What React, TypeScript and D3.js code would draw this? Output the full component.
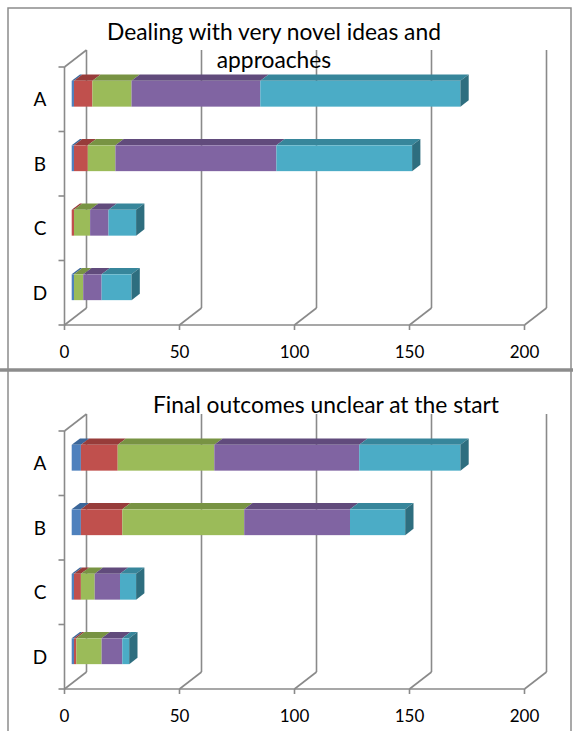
import React from "react";
import * as d3 from "d3";

// Categories and tick values
const categories = ["A", "B", "C", "D"];
const tickValues = [0, 50, 100, 150, 200];

// "Dealing with very novel ideas and approaches" — stacked series values
const novelBlue = [1, 1, 0, 1];
const novelRed = [8, 6, 1, 0];
const novelGreen = [17, 12, 7, 4];
const novelPurple = [56, 70, 8, 8];
const novelCyan = [87, 59, 12, 13];

// "Final outcomes unclear at the start" — stacked series values
const unclearBlue = [4, 4, 1, 1];
const unclearRed = [16, 18, 3, 1];
const unclearGreen = [42, 53, 6, 11];
const unclearPurple = [63, 46, 11, 9];
const unclearCyan = [44, 24, 7, 3];

// Face colours per series: front, top, side
const palette = [
  { front: "#4F81BD", top: "#3B6699", side: "#2E5078" },
  { front: "#C0504D", top: "#973C3A", side: "#7A2F2D" },
  { front: "#9BBB59", top: "#789343", side: "#5E7434" },
  { front: "#8064A2", top: "#614B7C", side: "#4C3A61" },
  { front: "#4BACC6", top: "#37869B", side: "#2E6E7F" },
];

const W = 573;
const H = 731;
const FONT = "Lato, 'Open Sans', sans-serif";
const GRID = "#8a8a8a";

// 3D projection: full depth of the plot box and the bar slab inside it
const DEPTH = { dx: 22, dy: -17 };
const BAR_FRONT = { dx: 7.2, dy: -5.5 };
const BAR_DEPTH = { dx: 8.3, dy: -6.3 };

type Panel = {
  title: string[];
  titleX: number;
  titleY: number[];
  series: number[][];
  offsetY: number;
};

const panels: Panel[] = [
  {
    title: ["Dealing with very novel ideas and", "approaches"],
    titleX: 274,
    titleY: [40, 68],
    series: [novelBlue, novelRed, novelGreen, novelPurple, novelCyan],
    offsetY: 0,
  },
  {
    title: ["Final outcomes unclear at the start"],
    titleX: 326,
    titleY: [413],
    series: [unclearBlue, unclearRed, unclearGreen, unclearPurple, unclearCyan],
    offsetY: 364,
  },
];

const x = d3.scaleLinear().domain([0, 200]).range([64.5, 524.5]);

function poly(pts: [number, number][]) {
  return pts.map((p) => p.join(",")).join(" ");
}

function ChartPanel({ panel }: { panel: Panel }) {
  const top = 67 + panel.offsetY;
  const floor = 325 + panel.offsetY;
  const y = d3
    .scaleBand<string>()
    .domain(categories)
    .range([top, floor])
    .paddingInner(0.6)
    .paddingOuter(0.3);
  const bandEdges = [
    ...categories.map((c) => (y(c) as number) - (y.step() * 0.6) / 2),
    floor,
  ];

  const stacked = d3
    .stack<number>()
    .keys(panel.series.map((_, i) => String(i)))
    .value((i, key) => panel.series[+key][i])(categories.map((_, i) => i));

  return (
    <g>
      {/* back wall gridlines with floor diagonals */}
      {tickValues.map((t) => {
        const fx = x(t);
        const bx = fx + DEPTH.dx;
        const by = floor + DEPTH.dy;
        return (
          <g key={t} stroke={GRID} strokeWidth={1.6} fill="none">
            <line x1={bx} y1={top + DEPTH.dy} x2={bx} y2={by} />
            <line x1={fx} y1={floor} x2={bx} y2={by} />
            <line x1={fx} y1={floor} x2={fx} y2={floor + 5} />
          </g>
        );
      })}
      {/* left wall */}
      <g stroke={GRID} strokeWidth={1.6} fill="none">
        <line x1={x(0)} y1={top} x2={x(0)} y2={floor} />
        <line x1={x(0)} y1={top} x2={x(0) + DEPTH.dx} y2={top + DEPTH.dy} />
        <line x1={x(0)} y1={floor} x2={x(200)} y2={floor} />
        {bandEdges.map((e, i) => (
          <line key={i} x1={x(0) - 6} y1={e} x2={x(0)} y2={e} />
        ))}
      </g>

      {/* stacked 3D bars */}
      {categories.map((c, ci) => {
        const y0 = (y(c) as number) + BAR_FRONT.dy;
        const y1 = y0 + y.bandwidth();
        const segs = stacked.map((s, si) => ({
          si,
          a: x(s[ci][0]) + BAR_FRONT.dx,
          b: x(s[ci][1]) + BAR_FRONT.dx,
        }));
        const visible = segs.filter((s) => s.b - s.a > 0.01);
        const last = visible[visible.length - 1];
        return (
          <g key={c}>
            {visible.map((s) => (
              <g key={s.si}>
                <polygon
                  points={poly([
                    [s.a, y0],
                    [s.b, y0],
                    [s.b + BAR_DEPTH.dx, y0 + BAR_DEPTH.dy],
                    [s.a + BAR_DEPTH.dx, y0 + BAR_DEPTH.dy],
                  ])}
                  fill={palette[s.si].top}
                />
                <rect
                  x={s.a}
                  y={y0}
                  width={s.b - s.a}
                  height={y1 - y0}
                  fill={palette[s.si].front}
                />
              </g>
            ))}
            {last && (
              <polygon
                points={poly([
                  [last.b, y0],
                  [last.b + BAR_DEPTH.dx, y0 + BAR_DEPTH.dy],
                  [last.b + BAR_DEPTH.dx, y1 + BAR_DEPTH.dy],
                  [last.b, y1],
                ])}
                fill={palette[last.si].side}
              />
            )}
          </g>
        );
      })}

      {/* category labels */}
      {categories.map((c) => (
        <text
          key={c}
          x={40}
          y={(y(c) as number) + y.bandwidth() / 2 + 7}
          textAnchor="middle"
          fontFamily={FONT}
          fontSize={19}
          fill="#000"
        >
          {c}
        </text>
      ))}

      {/* value axis labels */}
      {tickValues.map((t) => (
        <text
          key={t}
          x={x(t)}
          y={floor + 33}
          textAnchor="middle"
          fontFamily={FONT}
          fontSize={17}
          fill="#000"
        >
          {t}
        </text>
      ))}

      {/* title */}
      {panel.title.map((line, i) => (
        <text
          key={i}
          x={panel.titleX}
          y={panel.titleY[i]}
          textAnchor="middle"
          fontFamily={FONT}
          fontSize={22.8}
          fill="#000"
        >
          {line}
        </text>
      ))}
    </g>
  );
}

export default function App() {
  return (
    <svg
      width={W}
      height={H}
      style={{ position: "absolute", left: 0, top: 0, display: "block" }}
    >
      <rect width={W} height={H} fill="#fff" />
      {/* chart area frames */}
      <g fill="none" stroke="#8c8c8c">
        <rect x={8} y={8} width={563} height={362} strokeWidth={1.5} />
        <line x1={8} y1={370} x2={8} y2={H} strokeWidth={1.5} />
        <line x1={571} y1={370} x2={571} y2={H} strokeWidth={1.5} />
        <line x1={0} y1={370} x2={W} y2={370} strokeWidth={3.5} />
      </g>
      {panels.map((p, i) => (
        <ChartPanel key={i} panel={p} />
      ))}
    </svg>
  );
}
